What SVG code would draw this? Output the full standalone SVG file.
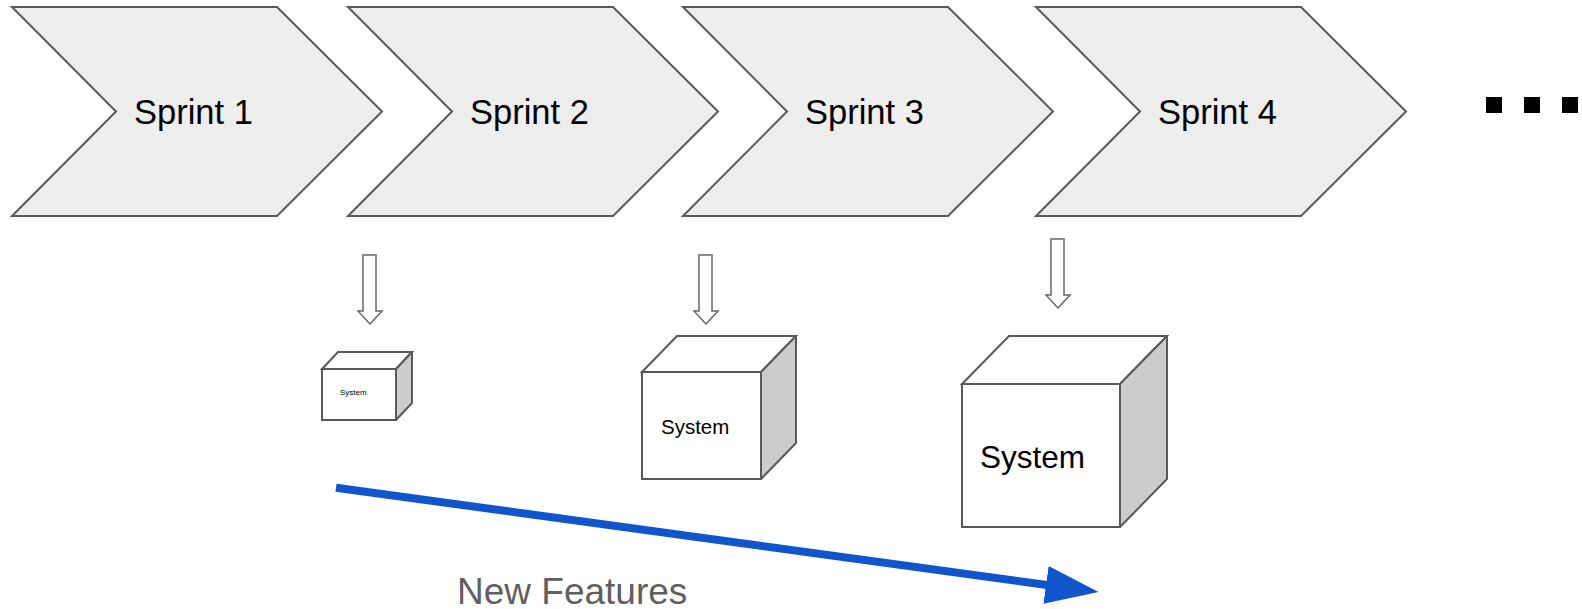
<svg xmlns="http://www.w3.org/2000/svg" width="1582" height="609" viewBox="0 0 1582 609">
<style>
.chev{fill:#eeeeee;stroke:#595959;stroke-width:2;stroke-linejoin:miter}
.lbl{font-family:"Liberation Sans",Arial,sans-serif;fill:#000}
.sprint{font-size:34.5px}
.front{fill:#ffffff;stroke:#595959;stroke-width:2}
.side{fill:#cccccc;stroke:#595959;stroke-width:2;stroke-linejoin:round}
.down{fill:#ffffff;stroke:#666666;stroke-width:1.5}
.dot{fill:#000}
</style>
<defs>
<path id="chevShape" d="M0,0 H265 L370,104.5 L265,209 H0 L104,104.5 Z"/>
<path id="downArrow" d="M0,0 H13 V56 H19 L7,69 L-5,56 H0 Z"/>
<marker id="blueHead" markerUnits="userSpaceOnUse" markerWidth="53" markerHeight="38" viewBox="0 0 53 38" refX="1" refY="19" orient="auto">
<path d="M0,0 L53,19 L0,38 Z" fill="#1155cc"/>
</marker>
</defs>
<rect width="1582" height="609" fill="#ffffff"/>
<g id="sprint1">
<use href="#chevShape" class="chev" x="12" y="7"/>
<text class="lbl sprint" x="134" y="124">Sprint 1</text>
</g>
<g id="sprint2">
<use href="#chevShape" class="chev" x="348" y="7"/>
<text class="lbl sprint" x="470" y="124">Sprint 2</text>
</g>
<g id="sprint3">
<use href="#chevShape" class="chev" x="683" y="7"/>
<text class="lbl sprint" x="805" y="124">Sprint 3</text>
</g>
<g id="sprint4">
<use href="#chevShape" class="chev" x="1036" y="7"/>
<text class="lbl sprint" x="1158" y="124">Sprint 4</text>
</g>
<g id="ellipsis">
<rect class="dot" x="1486" y="97" width="16" height="16"/>
<rect class="dot" x="1524" y="97" width="16" height="16"/>
<rect class="dot" x="1562" y="97" width="16" height="16"/>
</g>
<g id="system1">
<path class="front" d="M322,369 L338,352 H412 L396,369 Z"/>
<path class="side" d="M396,369 L412,352 V403 L396,420 Z"/>
<rect class="front" x="322" y="369" width="74" height="51"/>
<text class="lbl" x="340" y="395" font-size="8">System</text>
</g>
<g id="system2">
<path class="front" d="M642,372 L677,336 H796 L761,372 Z"/>
<path class="side" d="M761,372 L796,336 V443 L761,479 Z"/>
<rect class="front" x="642" y="372" width="119" height="107"/>
<text class="lbl" x="661" y="434" font-size="20.5">System</text>
</g>
<g id="system3">
<path class="front" d="M962,384 L1009,336 H1167 L1120,384 Z"/>
<path class="side" d="M1120,384 L1167,336 V479 L1120,527 Z"/>
<rect class="front" x="962" y="384" width="158" height="143"/>
<text class="lbl" x="980" y="468" font-size="31.5">System</text>
</g>
<g id="newFeatures">
<text x="457" y="604" font-family="'Liberation Sans',Arial,sans-serif" font-size="37" fill="#5f5f5f">New Features</text>
</g>
<g id="connectors">
<use href="#downArrow" class="down" x="363" y="255"/>
<use href="#downArrow" class="down" x="699" y="255"/>
<use href="#downArrow" class="down" x="1051" y="239"/>
<line x1="336" y1="487.7" x2="1047" y2="585" stroke="#1155cc" stroke-width="8" marker-end="url(#blueHead)"/>
</g>
</svg>
